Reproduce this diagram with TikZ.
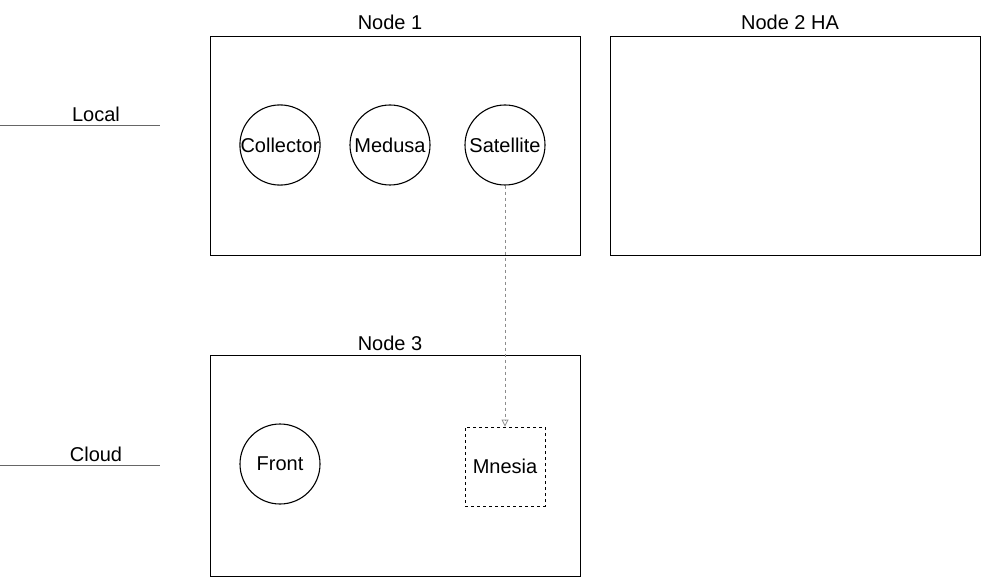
\documentclass[tikz,border=0pt]{standalone}
\usepackage{fontspec}
\setmainfont{Liberation Sans}
\usetikzlibrary{arrows.meta}
\begin{document}
\begin{tikzpicture}[x=1pt,y=-1pt,
  txt/.style={font=\fontsize{20}{24}\selectfont, inner sep=0pt},
  frame/.style={draw=black, line width=1pt},
  svc/.style={circle, draw=black, line width=1.1pt, minimum size=80pt, inner sep=0pt, font=\fontsize{20}{24}\selectfont},
  boxsvc/.style={rectangle, draw=black, dashed, line width=0.9pt, minimum width=80pt, minimum height=79pt, inner sep=0pt, font=\fontsize{20}{24}\selectfont},
  tier/.style={draw=gray!80!black, line width=1pt},
  link/.style={draw=gray!90, dashed, line width=0.8pt, -{Triangle[open, length=7pt, width=7pt]}}
]
\useasboundingbox (0,0) rectangle (982,577);
% frames
\draw[frame] (210,37) rectangle (580,256);
\draw[frame] (610,37) rectangle (980,256);
\draw[frame] (210,355) rectangle (580,576);
\node[txt] (n1) at (390,22) {Node 1};
\node[txt] (n2) at (790,22) {Node 2 HA};
\node[txt] (n3) at (390,343) {Node 3};
% tiers
\coordinate (la) at (0,126);
\coordinate (lb) at (160,126);
\coordinate (ca) at (0,465);
\coordinate (cb) at (160,465);
\draw[tier] (la) -- (lb);
\draw[tier] (ca) -- (cb);
\node[txt] (local) at (96,114) {Local};
\node[txt] (cloud) at (96,454) {Cloud};
% services
\node[svc] (coll) at (280,145) {Collector};
\node[svc] (med) at (390,145) {Medusa};
\node[svc] (sat) at (505,145) {Satellite};
\node[svc] (front) at (280,464) {Front};
\node[boxsvc] (mn) at (505,466.5) {Mnesia};
\draw[link] (sat) -- (mn);
\end{tikzpicture}
\end{document}
